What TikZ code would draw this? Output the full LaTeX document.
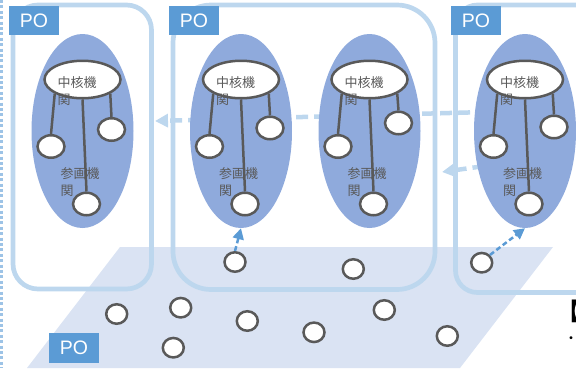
\documentclass[tikz,border=0pt]{standalone}
\usepackage{fontspec}
\usetikzlibrary{shapes.geometric,arrows.meta}
\newfontfamily\jpfont{Noto Sans CJK JP}
\newfontfamily\pofont{Liberation Sans}
\definecolor{frame}{HTML}{BDD7EE}
\definecolor{tagblue}{HTML}{5B9BD5}
\definecolor{poolblue}{HTML}{DAE3F3}
\definecolor{groupblue}{HTML}{8FAADC}
\definecolor{inkgray}{HTML}{595959}
\definecolor{dotblue}{HTML}{9DC3E6}
\def\kikan#1(#2,#3){%
	\node[group] (#1) at (#2,131) {};
	\node[core] (#1c) at (#2,79.5) {};
	\node[say] (#1t) at (#2-25,76) {中核機\\関};
	\node[say] (#1s) at (#2-22,167) {参画機\\関};
	\node[ball] (#1l) at (#2-31.5,146.5) {};
	\node[ball] (#1r) at (#2+29,#3) {};
	\node[ball] (#1b) at (#2+4,204) {};
	\draw[link] (#1c.south west) -- (#1l.north);
	\draw[link] (#1c.south) -- (#1b.north);
	\draw[link] (#1c.south east) -- (#1r.north);
}

\begin{document}
\begin{tikzpicture}[x=1pt, y=-1pt,
		group/.style={ellipse, fill=groupblue, minimum width=102, minimum height=194, inner sep=0},
		core/.style={ellipse, draw=inkgray, line width=2.5, fill=white, minimum width=76, minimum height=37.5, inner sep=0},
		ball/.style={ellipse, draw=inkgray, line width=2.5, fill=white, minimum width=27, minimum height=22.5, inner sep=0},
		seed/.style={ball, minimum width=21, minimum height=19.5},
		say/.style={anchor=north west, inner sep=0, align=left, text=inkgray, font=\jpfont\fontsize{13}{17}\selectfont},
		link/.style={draw=inkgray, line width=2.5},
		flow/.style={frame, line width=4.5, dash pattern=on 12pt off 6pt, -{Triangle[length=13pt,width=13pt]}},
		hop/.style={tagblue, line width=2.5, dash pattern=on 5pt off 3pt, -{Triangle[length=11pt,width=11pt]}},
		tag/.style={fill=tagblue, text=white, font=\pofont\fontsize{19.5}{20}\selectfont, minimum width=50, minimum height=29, inner sep=0}]
		%%%%% START %%%%%
		\useasboundingbox (0,0) rectangle (576,368);
		
		\fill[poolblue] (120,247) -- (553,247) -- (460,368) -- (27,368) -- cycle;
		
		\draw[frame, line width=4.7, rounded corners=25] (13,5) rectangle (151.5,289);
		\draw[frame, line width=4.7, rounded corners=38] (173,5) rectangle (435,289.5);
		\draw[frame, line width=4.7, rounded corners=22] (455.5,5) rectangle (620,292.5);
		
		\coordinate (farA) at (560,110);
		\coordinate (tipA) at (155,121);
		\draw[flow] (farA) -- (tipA);
		\coordinate (farB) at (520,161);
		\coordinate (tipB) at (442,172);
		\draw[flow] (farB) -- (tipB);
		
		\kikan k1(82.5,129.5)
		\kikan k2(241,128)
		\kikan k3(369.5,123)
		\kikan k4(525,127)
		
		\node[tag] (po1) at (34,20.5) {PO};
		\node[tag] (po2) at (194,20.5) {PO};
		\node[tag] (po3) at (476,20.5) {PO};
		\node[tag, minimum height=30] (po4) at (74,348) {PO};
		
		\node[seed] (s1) at (235,262) {};
		\node[seed] (s2) at (353.3,269) {};
		\node[seed] (s3) at (481.7,262.7) {};
		\node[seed] (s4) at (116.7,314) {};
		\node[seed] (s5) at (180.7,307.7) {};
		\node[seed] (s6) at (247.3,321) {};
		\node[seed] (s7) at (173.3,347.7) {};
		\node[seed] (s8) at (384.3,310) {};
		\node[seed] (s9) at (314,332.3) {};
		\node[seed] (s10) at (447.3,336) {};
		
		\draw[hop] (s1.north) -- (k2.south);
		\draw[hop] (s3.north east) -- (k4.south);
		
		\draw[dotblue, line width=3, dash pattern=on 3pt off 2.4pt] (1.5,0) -- (1.5,368);
		
		\node[anchor=base west, inner sep=0, font=\jpfont\bfseries\fontsize{24}{24}\selectfont] (note) at (556,320) {【};
		\node[anchor=base west, inner sep=0, font=\jpfont\fontsize{14}{14}\selectfont] (dot) at (564,343) {・};
		%%%%% END %%%%%
	\end{tikzpicture}
\end{document}
